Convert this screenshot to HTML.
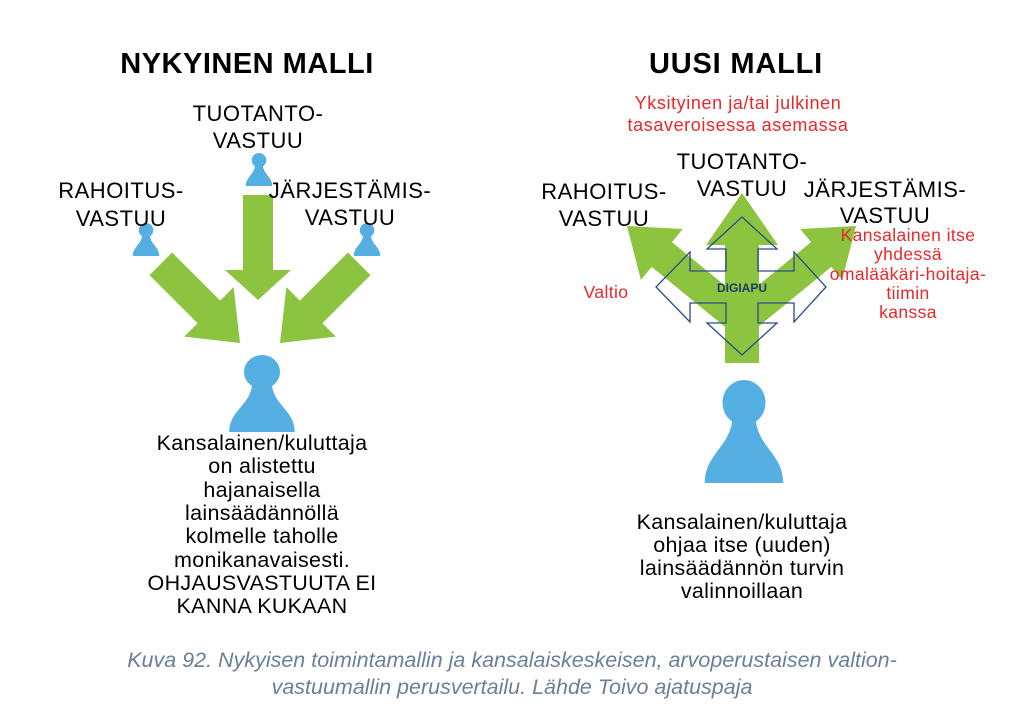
<!DOCTYPE html>
<html><head><meta charset="utf-8"><style>
html,body{margin:0;padding:0;background:#fff;}
svg{display:block;}
text{font-family:"Liberation Sans",sans-serif;}
</style></head><body>
<svg width="1024" height="709" viewBox="0 0 1024 709" xmlns="http://www.w3.org/2000/svg">
<defs>
<g id="p"><circle cx="0" cy="-78" r="22"/><path d="M-40,0 C-40,-28 -14,-35 -12,-62 L12,-62 C14,-35 40,-28 40,0 Z"/></g>
</defs>
<text x="247" y="73" font-size="29" font-weight="bold" text-anchor="middle" letter-spacing="0.5">NYKYINEN MALLI</text>
<text x="736" y="73" font-size="29" font-weight="bold" text-anchor="middle" letter-spacing="0.8">UUSI MALLI</text>

<!-- LEFT -->
<g fill="#8dc43f">
<polygon transform="translate(258,300) rotate(90)" points="-105,-15 -30,-15 -30,-33 0,0 -30,33 -30,15 -105,15"/>
<polygon transform="translate(240,343) rotate(45)" points="-112,-16 -44,-16 -44,-35 0,0 -44,35 -44,16 -112,16"/>
<polygon transform="translate(280,343) rotate(135)" points="-112,-16 -44,-16 -44,-35 0,0 -44,35 -44,16 -112,16"/>
</g>
<g fill="#56afe2">
<use href="#p" transform="translate(259,186) scale(0.33)"/>
<use href="#p" transform="translate(146,256) scale(0.33)"/>
<use href="#p" transform="translate(367,256) scale(0.33)"/>
<use href="#p" transform="translate(262,432) scale(0.82,0.77)"/>
</g>
<g font-size="22" text-anchor="middle" fill="#000" letter-spacing="0.5">
<text x="258" y="121">TUOTANTO-</text><text x="258" y="148">VASTUU</text>
<text x="121" y="198">RAHOITUS-</text><text x="121" y="226">VASTUU</text>
<text x="350" y="198">JÄRJESTÄMIS-</text><text x="350" y="225">VASTUU</text>
</g>
<g font-size="21.5" text-anchor="middle" fill="#000" letter-spacing="0.3">
<text x="262" y="450">Kansalainen/kuluttaja</text>
<text x="262" y="473">on alistettu</text>
<text x="262" y="497">hajanaisella</text>
<text x="262" y="520">lainsäädännöllä</text>
<text x="262" y="543">kolmelle taholle</text>
<text x="262" y="567">monikanavaisesti.</text>
<text x="262" y="590">OHJAUSVASTUUTA EI</text>
<text x="262" y="613">KANNA KUKAAN</text>
</g>

<!-- RIGHT -->
<g fill="#8dc43f">
<polygon transform="translate(742,193) rotate(-90)" points="-170,-17 -52,-17 -52,-36 0,0 -52,36 -52,17 -170,17"/>
<polygon transform="translate(627,226) rotate(-140.7)" points="-150,-16 -45,-16 -45,-33 0,0 -45,33 -45,16 -150,16"/>
<polygon transform="translate(856,226) rotate(-39.3)" points="-150,-16 -45,-16 -45,-33 0,0 -45,33 -45,16 -150,16"/>
</g>
<polygon fill="none" stroke="#2b4a8c" stroke-width="1.3" points="742,217 777,249 758,249 758,271 794,271 794,252 826,287 794,322 794,303 758,303 758,323 777,323 742,355 707,323 726,323 726,303 690,303 690,322 656,287 690,252 690,271 726,271 726,249 707,249"/>
<text x="742" y="292" font-family="Liberation Serif,serif" font-size="12" font-weight="bold" fill="#1f3a6a" text-anchor="middle">DIGIAPU</text>
<use href="#p" fill="#56afe2" transform="translate(744,483) scale(0.98,1.03)"/>
<g font-size="18" text-anchor="middle" fill="#e8282b" letter-spacing="0.6">
<text x="738" y="109">Yksityinen ja/tai julkinen</text>
<text x="738" y="131">tasaveroisessa asemassa</text>
</g>
<g font-size="17.5" text-anchor="middle" fill="#e8282b" letter-spacing="0.4">
<text x="908" y="241">Kansalainen itse</text>
<text x="908" y="260">yhdessä</text>
<text x="908" y="280">omalääkäri-hoitaja-</text>
<text x="908" y="299">tiimin</text>
<text x="908" y="318">kanssa</text>
<text x="606" y="298">Valtio</text>
</g>
<g font-size="22" text-anchor="middle" fill="#000" letter-spacing="0.5">
<text x="742" y="169">TUOTANTO-</text><text x="742" y="196">VASTUU</text>
<text x="604" y="199">RAHOITUS-</text><text x="604" y="226">VASTUU</text>
<text x="885" y="197">JÄRJESTÄMIS-</text><text x="885" y="223">VASTUU</text>
</g>
<g font-size="21.5" text-anchor="middle" fill="#000" letter-spacing="0.3">
<text x="742" y="529">Kansalainen/kuluttaja</text>
<text x="742" y="552">ohjaa itse  (uuden)</text>
<text x="742" y="575">lainsäädännön turvin</text>
<text x="742" y="598">valinnoillaan</text>
</g>

<g font-size="21.5" font-style="italic" fill="#6a7f99" text-anchor="middle">
<text x="512" y="667">Kuva 92. Nykyisen toimintamallin ja kansalaiskeskeisen, arvoperustaisen valtion-</text>
<text x="512" y="694">vastuumallin perusvertailu. Lähde Toivo ajatuspaja</text>
</g>
</svg>
</body></html>
